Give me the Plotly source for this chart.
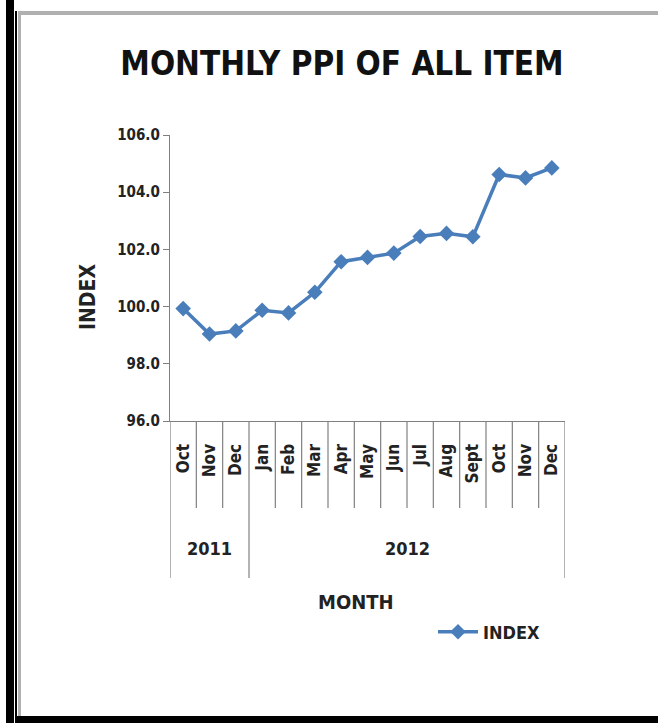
import plotly.graph_objects as go

months = ["Oct", "Nov", "Dec", "Jan", "Feb", "Mar", "Apr", "May", "Jun",
          "Jul", "Aug", "Sept", "Oct", "Nov", "Dec"]
years = ["2011", "2011", "2011", "2012", "2012", "2012", "2012", "2012", "2012",
         "2012", "2012", "2012", "2012", "2012", "2012"]
index_values = [99.93, 99.04, 99.15, 99.87, 99.78, 100.5, 101.57, 101.72, 101.87,
                102.45, 102.56, 102.44, 104.62, 104.5, 104.85]
y_ticks = [96, 98, 100, 102, 104, 106]

W, H = 658, 723
L, R, T, B = 170, 565, 135, 421  # plot area in pixels

def px(x):
    return (x - L) / (R - L)

def py(y):
    return (B - y) / (B - T)

FONT = "DejaVu Sans Condensed, Liberation Sans, Arial"
BLUE = "#4A7EBB"

xs = list(range(len(months)))

fig = go.Figure()
fig.add_trace(go.Scatter(
    x=xs, y=index_values, mode="lines+markers", name="<b>INDEX</b>",
    line=dict(color=BLUE, width=3.5),
    marker=dict(symbol="diamond", size=12, color=BLUE),
))

shapes = []
n = len(months)
group_bounds = [0]
for i in range(1, n):
    if years[i] != years[i - 1]:
        group_bounds.append(i)
group_bounds.append(n)
for k in range(n + 1):
    long = k in group_bounds
    shapes.append(dict(type="line", xref="x", yref="paper",
                       x0=k - 0.5, x1=k - 0.5, y0=py(421), y1=py(578 if long else 508),
                       line=dict(color="#808080", width=1.2)))
# frame
shapes += [
    dict(type="rect", xref="paper", yref="paper", x0=px(6), x1=px(14), y0=py(723), y1=py(0),
         fillcolor="black", line=dict(width=0), layer="above"),
    dict(type="rect", xref="paper", yref="paper", x0=px(15), x1=px(17), y0=py(723), y1=py(11),
         fillcolor="black", line=dict(width=0), layer="above"),
    dict(type="rect", xref="paper", yref="paper", x0=px(17), x1=px(658), y0=py(723), y1=py(716),
         fillcolor="black", line=dict(width=0), layer="above"),
    dict(type="rect", xref="paper", yref="paper", x0=px(18), x1=px(21), y0=py(716), y1=py(11),
         fillcolor="#B0B0B0", line=dict(width=0), layer="above"),
    dict(type="rect", xref="paper", yref="paper", x0=px(18), x1=px(658), y0=py(15), y1=py(11),
         fillcolor="#B0B0B0", line=dict(width=0), layer="above"),
]

annotations = []
for g in range(len(group_bounds) - 1):
    a, b = group_bounds[g], group_bounds[g + 1]
    annotations.append(dict(x=(a + b - 1) / 2, y=py(548), xref="x", yref="paper",
                            yanchor="middle", xanchor="center",
                            text="<b>%s</b>" % years[a], showarrow=False,
                            font=dict(family=FONT, size=18, color="#222")))
annotations.append(dict(x=px(356), y=py(602), xref="paper", yref="paper",
                        yanchor="middle", xanchor="center",
                        text="<b>MONTH</b>", showarrow=False,
                        font=dict(family=FONT, size=20, color="#222")))
annotations.append(dict(x=px(88), y=py(297), xref="paper", yref="paper",
                        yanchor="middle", xanchor="center", textangle=-90,
                        text="<b>INDEX</b>", showarrow=False,
                        font=dict(family=FONT, size=21, color="#222")))

fig.update_layout(
    width=W, height=H,
    margin=dict(l=L, r=W - R, t=T, b=H - B),
    paper_bgcolor="white", plot_bgcolor="white",
    title=dict(text="<b>MONTHLY PPI OF ALL ITEM</b>", x=342 / W, xanchor="center",
               y=1 - 63 / H, yanchor="middle",
               font=dict(family=FONT, size=33, color="#111")),
    xaxis=dict(range=[-0.5, n - 0.5], tickmode="array", tickvals=xs,
               ticktext=["<b>%s</b>" % m for m in months],
               tickangle=-90, ticks="", showgrid=False, zeroline=False,
               showline=True, linecolor="#808080", linewidth=1.2,
               ticklabelstandoff=15,
               tickfont=dict(family=FONT, size=17, color="#222")),
    yaxis=dict(range=[96, 106], tickmode="array", tickvals=y_ticks,
               ticktext=["<b>%.1f</b>" % v for v in y_ticks],
               ticks="outside", ticklen=6, tickcolor="#808080",
               showgrid=False, zeroline=False, showline=True,
               linecolor="#808080", linewidth=1.2,
               tickfont=dict(family=FONT, size=15, color="#222")),
    showlegend=True,
    legend=dict(x=px(433), y=py(632), xanchor="left", yanchor="middle",
                bgcolor="rgba(0,0,0,0)", itemwidth=40,
                font=dict(family=FONT, size=18, color="#222")),
    shapes=shapes, annotations=annotations,
)

fig.write_html("out.html", config={"displayModeBar": False},
               post_script="document.body.style.margin='0';")
